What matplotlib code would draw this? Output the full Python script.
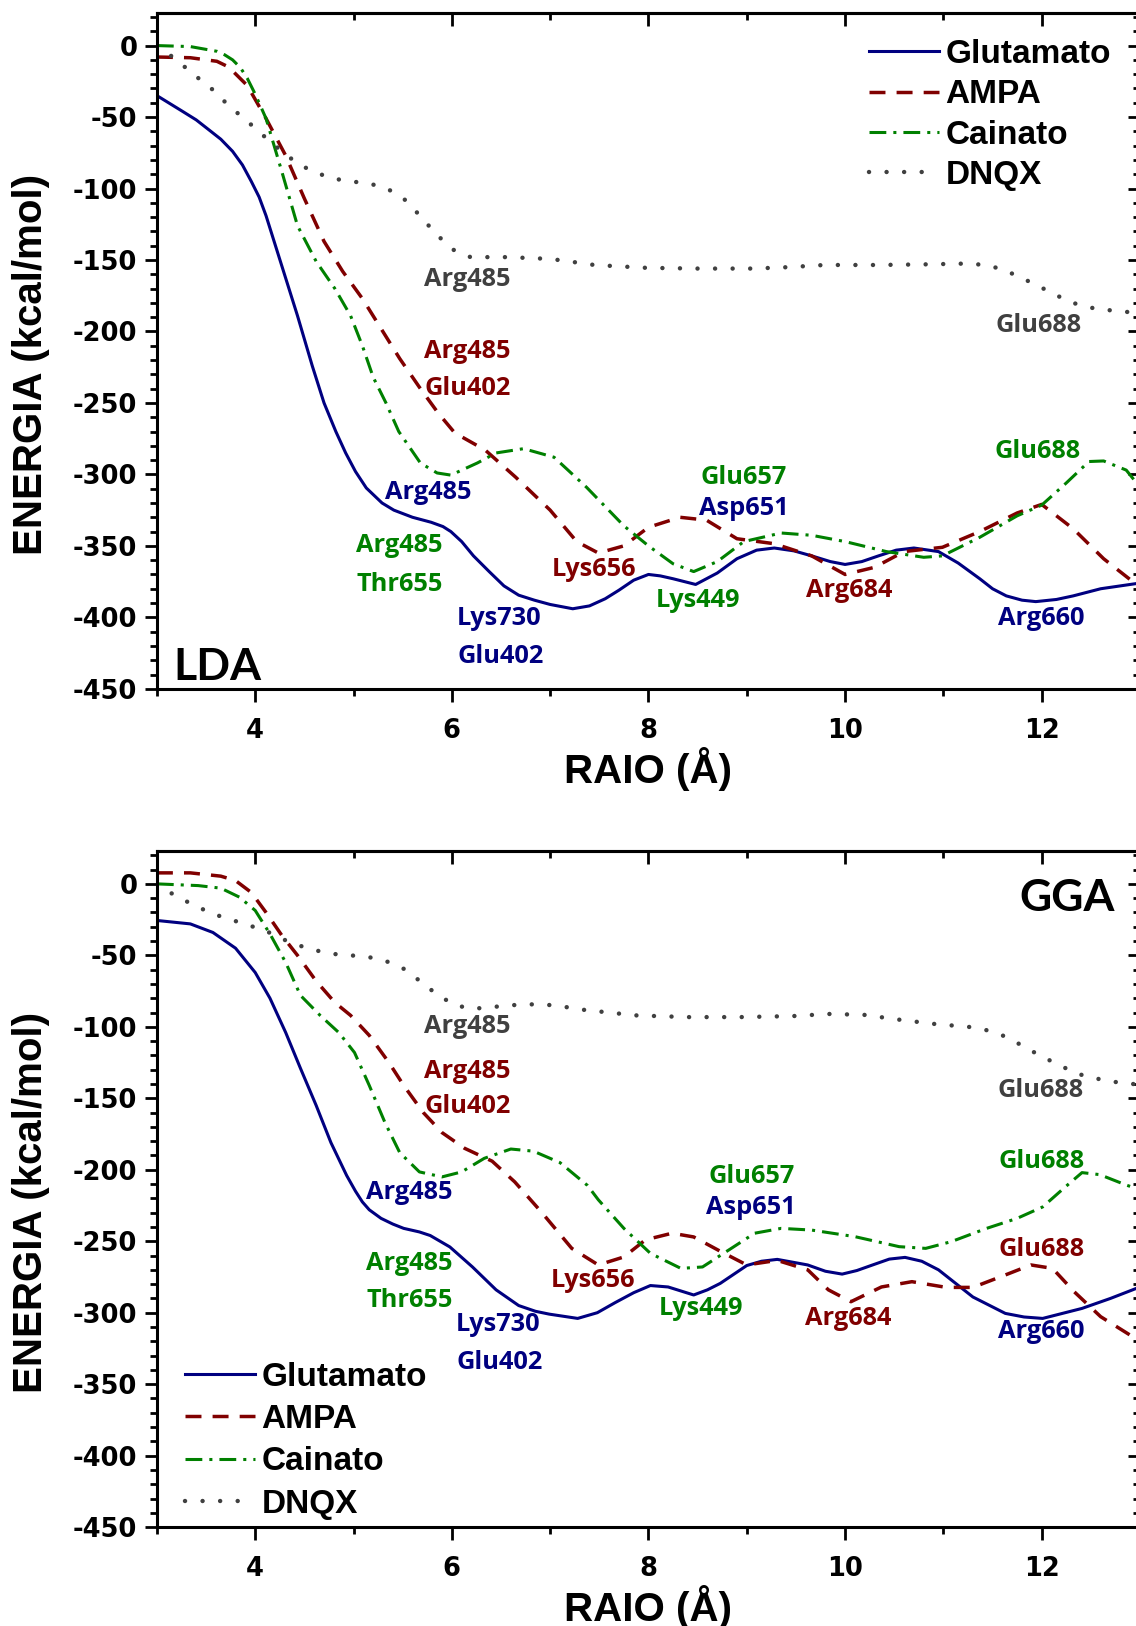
import matplotlib
matplotlib.use('Agg')
import matplotlib.pyplot as plt
from matplotlib.ticker import MultipleLocator, FixedLocator

plt.rcParams['axes.unicode_minus'] = False

# ---------------- DATA ----------------
series_names = ["Glutamato", "AMPA", "Cainato", "DNQX"]
x_ticks = [4, 6, 8, 10, 12]

# LDA panel
lda_glu_x = [3.0, 3.13, 3.26, 3.4, 3.53, 3.65, 3.77, 3.87, 3.96, 4.04, 4.11, 4.27, 4.43, 4.58, 4.70, 4.82, 4.92,
             5.02, 5.13, 5.29, 5.41, 5.6, 5.79, 5.91, 5.99, 6.1, 6.22, 6.38, 6.53, 6.68, 6.84, 7.0, 7.23, 7.40,
             7.56, 7.70, 7.85, 8.0, 8.12, 8.25, 8.48, 8.70, 8.9, 9.1, 9.28, 9.48, 9.66, 9.85, 10.0, 10.17, 10.34,
             10.52, 10.7, 10.95, 11.15, 11.37, 11.5, 11.64, 11.8, 11.94, 12.15, 12.32, 12.6, 13.0]
lda_glu_y = [-35, -40.5, -46, -52, -59, -65.5, -74, -83.5, -95, -106, -119, -154, -189, -224, -250, -270, -285,
             -298, -309.5, -320, -325, -330, -333.5, -336.5, -340, -347, -357, -368, -378, -384.5, -388, -391,
             -394, -392, -387, -381, -374, -370, -371, -373, -377, -369, -359, -353, -351.5, -353.5, -357, -361,
             -363, -361, -357, -353, -351.5, -354, -362, -373, -380, -385, -388, -389, -387.5, -385, -380, -376]

lda_ampa_x = [3.0, 3.34, 3.61, 3.73, 3.92, 4.11, 4.31, 4.5, 4.7, 4.89, 5.09, 5.28, 5.47, 5.67, 5.86, 6.03, 6.34,
              6.65, 7.0, 7.27, 7.49, 7.75, 8.0, 8.32, 8.59, 8.9, 9.28, 9.66, 10.0, 10.3, 10.6, 10.99, 11.37,
              11.75, 12.0, 12.32, 12.63, 13.0]
lda_ampa_y = [-8, -8.5, -11, -15, -28, -51, -77, -107, -137, -158, -177, -198, -219, -239, -257, -271, -283,
              -302, -325, -347, -355, -350, -337, -330, -332, -345, -348.5, -357, -370, -365, -354, -351, -340,
              -327, -321, -338, -359, -379]

lda_kai_x = [3.0, 3.34, 3.61, 3.69, 3.77, 3.85, 3.92, 4.0, 4.11, 4.27, 4.43, 4.62, 4.81, 4.97, 5.09, 5.2, 5.33,
             5.46, 5.68, 5.85, 5.99, 6.26, 6.45, 6.73, 7.04, 7.37, 7.75, 8.0, 8.25, 8.46, 8.7, 8.97, 9.35, 9.66,
             10.0, 10.42, 10.8, 10.99, 11.37, 11.75, 12.0, 12.25, 12.48, 12.63, 12.86, 13.0]
lda_kai_y = [0, -0.7, -4, -6.5, -10, -15.5, -23, -34, -51, -88, -126, -151, -170, -189, -210, -232, -250,
             -270, -292, -299, -300.5, -292, -285, -282, -288, -309, -336, -350, -362.5, -368, -361, -347, -341,
             -342.6, -347, -354, -358, -357, -344, -329, -321.5, -306, -291, -290.6, -297, -309]

lda_dnqx_x = [3.0, 3.18, 3.38, 3.57, 3.73, 3.92, 4.1, 4.27, 4.44, 4.62, 4.79, 4.97, 5.16, 5.34, 5.51, 5.69, 5.84,
              6.02, 6.19, 6.37, 6.56, 6.74, 6.91, 7.09, 7.45, 7.98, 8.51, 9.07, 9.43, 9.79, 10.34, 10.88, 11.24,
              11.43, 11.6, 11.77, 11.96, 12.13, 12.3, 12.5, 12.67, 12.86, 13.0]
lda_dnqx_y = [0, -9, -20.5, -31, -42, -53, -64, -74, -83, -89, -93, -95, -96.5, -100, -107, -120, -132,
              -143, -148, -148, -148, -148.5, -149, -150, -153.5, -155.5, -156, -156, -155, -153.5, -153.5, -153,
              -152.5, -153.5, -156.5, -161.7, -168, -174, -179.7, -183.4, -185, -186.3, -187]

# GGA panel
gga_glu_x = [3.0, 3.34, 3.57, 3.8, 4.0, 4.15, 4.31, 4.46, 4.62, 4.77, 4.93, 5.02, 5.09, 5.16, 5.28, 5.4, 5.51,
             5.67, 5.78, 5.98, 6.21, 6.45, 6.68, 6.85, 6.99, 7.28, 7.48, 7.66, 7.85, 8.02, 8.2, 8.46, 8.6, 8.73,
             9.0, 9.15, 9.31, 9.62, 9.8, 9.97, 10.12, 10.28, 10.45, 10.61, 10.78, 10.95, 11.3, 11.63, 11.82,
             12.01, 12.41, 12.7, 13.0]
gga_glu_y = [-25.6, -28, -34, -45, -62, -80, -104, -129, -155, -181, -204, -215, -222.5, -228, -234, -238, -241,
             -243.5, -246, -254, -268, -284, -295, -299, -301, -304, -300, -293, -286, -281, -282, -287.6, -284,
             -279.5, -267, -264, -262.7, -266.6, -271, -273, -270.5, -266.6, -262.5, -261.3, -264, -270, -289,
             -300.5, -303, -304, -297, -290, -282]

gga_ampa_x = [3.0, 3.34, 3.65, 3.8, 3.96, 4.11, 4.27, 4.43, 4.62, 4.81, 4.97, 5.16, 5.36, 5.51, 5.71, 5.9, 6.13,
              6.41, 6.64, 6.91, 7.22, 7.49, 7.75, 7.97, 8.24, 8.46, 8.73, 9.0, 9.31, 9.62, 9.83, 10.06, 10.37,
              10.68, 11.03, 11.3, 11.63, 11.89, 12.11, 12.33, 12.6, 13.0]
gga_ampa_y = [7.7, 7.7, 5.4, 2.3, -6, -20, -36, -50, -68, -83, -92, -106, -125, -141, -160, -174, -185,
              -194, -208.5, -229.5, -255, -266.6, -261, -249, -244.4, -247, -257, -266.6, -263.4, -270, -284,
              -292.3, -282, -278.3, -282.3, -282.3, -273.6, -266.6, -269, -285.3, -302.8, -320]

gga_kai_x = [3.0, 3.42, 3.65, 3.84, 4.0, 4.15, 4.31, 4.46, 4.66, 4.85, 5.01, 5.16, 5.32, 5.47, 5.67, 5.9, 6.1,
             6.33, 6.6, 6.83, 7.1, 7.38, 7.49, 7.75, 8.02, 8.33, 8.55, 8.82, 9.08, 9.35, 9.66, 10.1, 10.55,
             10.82, 11.08, 11.44, 11.75, 12.01, 12.24, 12.41, 12.59, 12.86, 13.0]
gga_kai_y = [0, -1.2, -3, -9.3, -18.6, -35, -55, -78, -92, -104, -118, -141, -167, -188, -201.5, -205, -201.5,
             -192, -185.5, -187, -195, -211, -221, -241, -258.5, -269, -268, -256, -244.4, -241, -242.2, -246.8,
             -253.8, -255, -250.3, -241, -234, -226, -212, -202, -203.4, -210.7, -214]

gga_dnqx_x = [3.0, 3.18, 3.38, 3.57, 3.73, 3.92, 4.1, 4.27, 4.44, 4.62, 4.79, 4.97, 5.16, 5.34, 5.51, 5.69, 5.86,
              6.04, 6.21, 6.41, 6.58, 6.76, 6.93, 7.12, 7.3, 7.49, 7.87, 8.4, 8.93, 9.47, 9.83, 10.19, 10.55,
              10.91, 11.28, 11.45, 11.64, 11.81, 11.98, 12.17, 12.36, 12.53, 12.7, 12.9, 13.0]
gga_dnqx_y = [0, -8, -15, -21, -24.5, -28.7, -32.6, -38.4, -43, -46.6, -49, -50, -51.3, -54.3, -59.4, -68.7, -78,
              -85, -87.4, -86.2, -85, -84.3, -84.3, -85.7, -87.8, -89.2, -92, -93.2, -93.2, -92.5, -91, -91.6, -95,
              -98, -100.2, -102.5, -107, -113.5, -120, -126.5, -132.8, -135.8, -138.2, -139.8, -140.5]

# annotations: text, x, y, series
lda_ann_text = ["Arg485", "Glu688", "Arg485", "Glu402", "Glu688", "Arg485", "Glu657", "Asp651", "Arg485",
                "Thr655", "Lys656", "Lys449", "Arg684", "Lys730", "Glu402", "Arg660"]
lda_ann_x = [6.16, 11.97, 6.16, 6.16, 11.96, 5.76, 8.97, 8.97, 5.47, 5.47, 7.45, 8.5, 10.04, 6.48, 6.5, 12.0]
lda_ann_y = [-164, -196, -214, -240, -284, -313, -302, -324, -350, -377, -366.5, -388, -381, -400.5, -427.5, -400.5]
lda_ann_series = ["DNQX", "DNQX", "AMPA", "AMPA", "Cainato", "Glutamato", "Cainato", "Glutamato", "Cainato",
                  "Cainato", "AMPA", "Cainato", "AMPA", "Glutamato", "Glutamato", "Glutamato"]

gga_ann_text = ["Arg485", "Glu688", "Arg485", "Glu402", "Glu688", "Arg485", "Glu657", "Asp651", "Glu688",
                "Arg485", "Thr655", "Lys656", "Lys449", "Arg684", "Lys730", "Glu402", "Arg660"]
gga_ann_x = [6.16, 11.99, 6.16, 6.16, 12.0, 5.57, 9.05, 9.04, 12.0, 5.57, 5.57, 7.44, 8.53, 10.03, 6.47, 6.49, 12.0]
gga_ann_y = [-100, -144.5, -131.5, -155.5, -194.5, -216, -205, -226.5, -255.5, -265.5, -291.5, -277.5, -297,
             -304, -308.5, -335, -313.5]
gga_ann_series = ["DNQX", "DNQX", "AMPA", "AMPA", "Cainato", "Glutamato", "Cainato", "Glutamato", "AMPA",
                  "Cainato", "Cainato", "AMPA", "Cainato", "AMPA", "Glutamato", "Glutamato", "Glutamato"]

# ---------------- STYLE ----------------
styles = {
    "Glutamato": dict(color="#000080", lw=2.2, ls="-"),
    "AMPA": dict(color="#800000", lw=2.5, ls=(0, (4.6, 3.2))),
    "Cainato": dict(color="#008000", lw=2.2, ls=(0, (5.5, 2.3, 1.0, 2.3))),
    "DNQX": dict(color="#404040", lw=3.2, ls=(0, (0.01, 3.94)), dash_capstyle="round"),
}
text_colors = {"Glutamato": "#000080", "AMPA": "#800000", "Cainato": "#008000", "DNQX": "#404040"}

TICK_FONT = "DejaVu Sans"
LABEL_FONT = "Liberation Sans"
ANN_FONT = "Open Sans"

fig = plt.figure(figsize=(11.36, 16.26), dpi=100)
fig.patch.set_facecolor("white")
ax_lda = fig.add_axes([0.13812, 0.57638, 0.86541, 0.41581])
ax_gga = fig.add_axes([0.13812, 0.06082, 0.86541, 0.41581])


def setup(ax):
    ax.set_xlim(3, 13)
    ax.set_ylim(-450, 23)
    ax.xaxis.set_major_locator(FixedLocator(x_ticks))
    ax.xaxis.set_minor_locator(MultipleLocator(1))
    ax.yaxis.set_major_locator(MultipleLocator(50))
    ax.yaxis.set_minor_locator(MultipleLocator(10))
    ax.tick_params(which="major", direction="out", length=9, width=2, top=False, right=False)
    ax.tick_params(which="minor", direction="out", length=5, width=2, top=False, right=False)
    ax.tick_params(axis="x", which="major", pad=12)
    ax.tick_params(axis="y", which="major", pad=5)
    for lab in ax.get_xticklabels() + ax.get_yticklabels():
        lab.set_fontfamily(TICK_FONT)
        lab.set_fontweight("bold")
        lab.set_fontsize(18.5)
    for s in ax.spines.values():
        s.set_linewidth(2.2)
    sx = ax.secondary_xaxis("top")
    sx.xaxis.set_major_locator(FixedLocator(x_ticks))
    sx.xaxis.set_minor_locator(MultipleLocator(1))
    sx.tick_params(which="major", direction="in", length=9, width=2, labeltop=False)
    sx.tick_params(which="minor", direction="in", length=5, width=2)
    sx.spines["top"].set_linewidth(2.2)
    sy = ax.secondary_yaxis("right")
    sy.yaxis.set_major_locator(MultipleLocator(50))
    sy.yaxis.set_minor_locator(MultipleLocator(10))
    sy.tick_params(which="major", direction="in", length=9, width=2, labelright=False)
    sy.tick_params(which="minor", direction="in", length=5, width=2)
    sy.spines["right"].set_linewidth(2.2)
    ax.set_xlabel("RAIO (Å)", fontfamily=LABEL_FONT, fontweight="bold", fontsize=29)
    ax.set_ylabel("ENERGIA (kcal/mol)", fontfamily=LABEL_FONT, fontweight="bold", fontsize=29)
    ax.xaxis.set_label_coords(0.4995, -0.118)
    ax.xaxis.label.set_va("center")
    ax.yaxis.set_label_coords(-0.128, 0.48)
    ax.yaxis.label.set_va("center")


def draw(ax, data, ann_text, ann_x, ann_y, ann_series):
    for name in series_names:
        xs, ys = data[name]
        ax.plot(xs, ys, label=name, solid_joinstyle="round", **styles[name])
    for t, x, y, s in zip(ann_text, ann_x, ann_y, ann_series):
        ax.text(x, y, t, color=text_colors[s], ha="center", va="center",
                fontfamily=ANN_FONT, fontweight="bold", fontsize=18.3)


lda_data = {"Glutamato": (lda_glu_x, lda_glu_y), "AMPA": (lda_ampa_x, lda_ampa_y),
            "Cainato": (lda_kai_x, lda_kai_y), "DNQX": (lda_dnqx_x, lda_dnqx_y)}
gga_data = {"Glutamato": (gga_glu_x, gga_glu_y), "AMPA": (gga_ampa_x, gga_ampa_y),
            "Cainato": (gga_kai_x, gga_kai_y), "DNQX": (gga_dnqx_x, gga_dnqx_y)}

for ax in (ax_lda, ax_gga):
    setup(ax)

draw(ax_lda, lda_data, lda_ann_text, lda_ann_x, lda_ann_y, lda_ann_series)
draw(ax_gga, gga_data, gga_ann_text, gga_ann_x, gga_ann_y, gga_ann_series)

ax_lda.text(3.164, -443.5, "LDA", ha="left", va="baseline", fontfamily="Lato", fontweight="bold", fontsize=32)
ax_gga.text(12.746, -18.8, "GGA", ha="right", va="baseline", fontfamily="Lato", fontweight="bold", fontsize=32)

leg_font = dict(family=LABEL_FONT, weight="bold", size=24)
ax_lda.legend(loc="upper left", bbox_to_anchor=(0.7243, 0.961), frameon=False, prop=leg_font,
              borderpad=0, borderaxespad=0, handlelength=2.1, handletextpad=0.2, labelspacing=0.28)
ax_gga.legend(loc="lower left", bbox_to_anchor=(0.0283, 0.0108), frameon=False, prop=leg_font,
              borderpad=0, borderaxespad=0, handlelength=2.1, handletextpad=0.2, labelspacing=0.34)

fig.savefig("out.png", dpi=100)
